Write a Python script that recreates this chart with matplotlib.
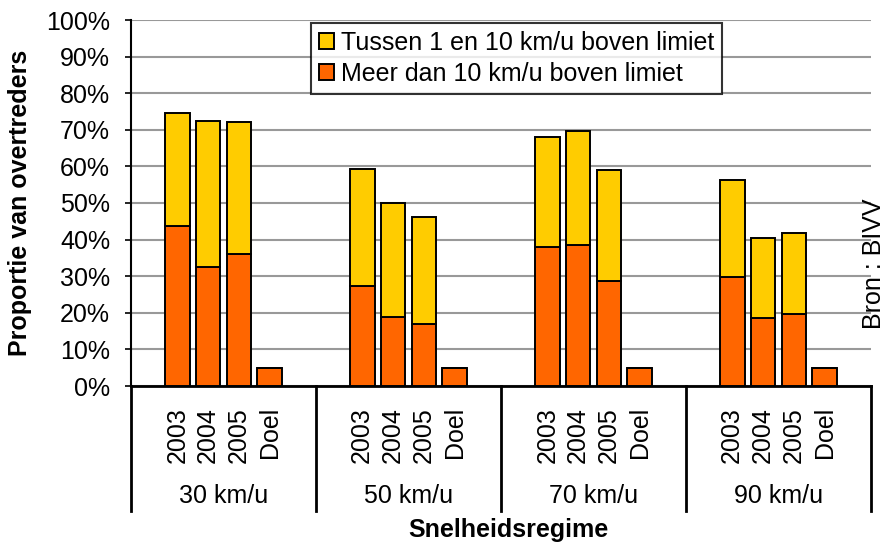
import numpy as np
import matplotlib
matplotlib.use('Agg')
import matplotlib.pyplot as plt
import matplotlib.transforms as mtransforms

plt.rcParams['font.family'] = ['Liberation Sans', 'DejaVu Sans']

regimes = ['30 km/u', '50 km/u', '70 km/u', '90 km/u']
years = ['2003', '2004', '2005', 'Doel']
# share of drivers > 10 km/u over the limit (per regime: 2003, 2004, 2005, target)
meer = [[43.7, 32.6, 36.0, 5.0],
        [27.3, 18.9, 16.9, 5.0],
        [38.1, 38.6, 28.8, 5.0],
        [29.9, 18.5, 19.6, 5.0]]
# total share of offenders (top of the stacked bar)
totaal = [[74.7, 72.5, 72.0, 5.0],
          [59.4, 50.1, 46.3, 5.0],
          [68.1, 69.8, 58.9, 5.0],
          [56.2, 40.4, 41.9, 5.0]]

YELLOW = '#FFCC00'
ORANGE = '#FF6600'
FS = 18

fig = plt.figure(figsize=(8.85, 5.44), dpi=100)
ax = fig.add_axes([131 / 885, 1 - 386 / 544, 740 / 885, 366 / 544])

slots = 6
xpos, low, high, labels = [], [], [], []
for g in range(len(regimes)):
    for i in range(len(years)):
        xpos.append(g * slots + 1.5 + i)
        low.append(meer[g][i])
        high.append(totaal[g][i] - meer[g][i])
        labels.append(years[i])

ax.bar(xpos, low, width=0.8, color=ORANGE, edgecolor='black', linewidth=1.4,
       label='Meer dan 10 km/u boven limiet', zorder=3)
ax.bar(xpos, high, bottom=low, width=0.8, color=YELLOW, edgecolor='black',
       linewidth=1.4, label='Tussen 1 en 10 km/u boven limiet', zorder=3)

ax.set_xlim(0, slots * len(regimes))
ax.set_ylim(0, 100)
ax.set_yticks(np.arange(0, 101, 10))
ax.set_yticklabels([f'{v}%' for v in range(0, 101, 10)], fontsize=FS)
ax.yaxis.grid(True, color='#999999', linewidth=1.5, zorder=0)
ax.tick_params(axis='y', length=4, width=1.2, pad=11)

ax.set_xticks(xpos)
ax.set_xticklabels(labels, rotation=90, fontsize=FS, va='top')
ax.tick_params(axis='x', length=0, pad=15)

for s in ['top', 'right']:
    ax.spines[s].set_visible(False)
ax.spines['left'].set_linewidth(1.5)
ax.spines['bottom'].set_linewidth(2)

trans = mtransforms.blended_transform_factory(ax.transData, ax.transAxes)
for g in range(len(regimes) + 1):
    ax.plot([g * slots, g * slots], [0, -125 / 366], transform=trans,
            color='black', linewidth=2, clip_on=False)
for g, name in enumerate(regimes):
    ax.text(g * slots + slots / 2, -110 / 366, name, transform=trans,
            ha='center', va='center', fontsize=FS)

fig.text(20 / 885, 1 - 203 / 544, 'Proportie van overtreders', rotation=90,
         ha='center', va='center', fontsize=FS, fontweight='bold')
fig.text(508 / 885, 1 - 530 / 544, 'Snelheidsregime', ha='center',
         va='center', fontsize=FS, fontweight='bold')
fig.text(874 / 885, 1 - 264 / 544, 'Bron : BIVV', rotation=90, ha='center',
         va='center', fontsize=FS)

handles, names = ax.get_legend_handles_labels()
leg = ax.legend(handles[::-1], names[::-1], loc='upper left',
                bbox_to_anchor=(180 / 740, 363 / 366), fontsize=FS,
                frameon=True, fancybox=False, edgecolor='black',
                handlelength=0.6, handleheight=0.6, handletextpad=0.3,
                labelspacing=0.3, borderpad=0.3, borderaxespad=0)
leg.get_frame().set_linewidth(1.5)
leg.set_zorder(5)

fig.savefig('out.png', dpi=100)
